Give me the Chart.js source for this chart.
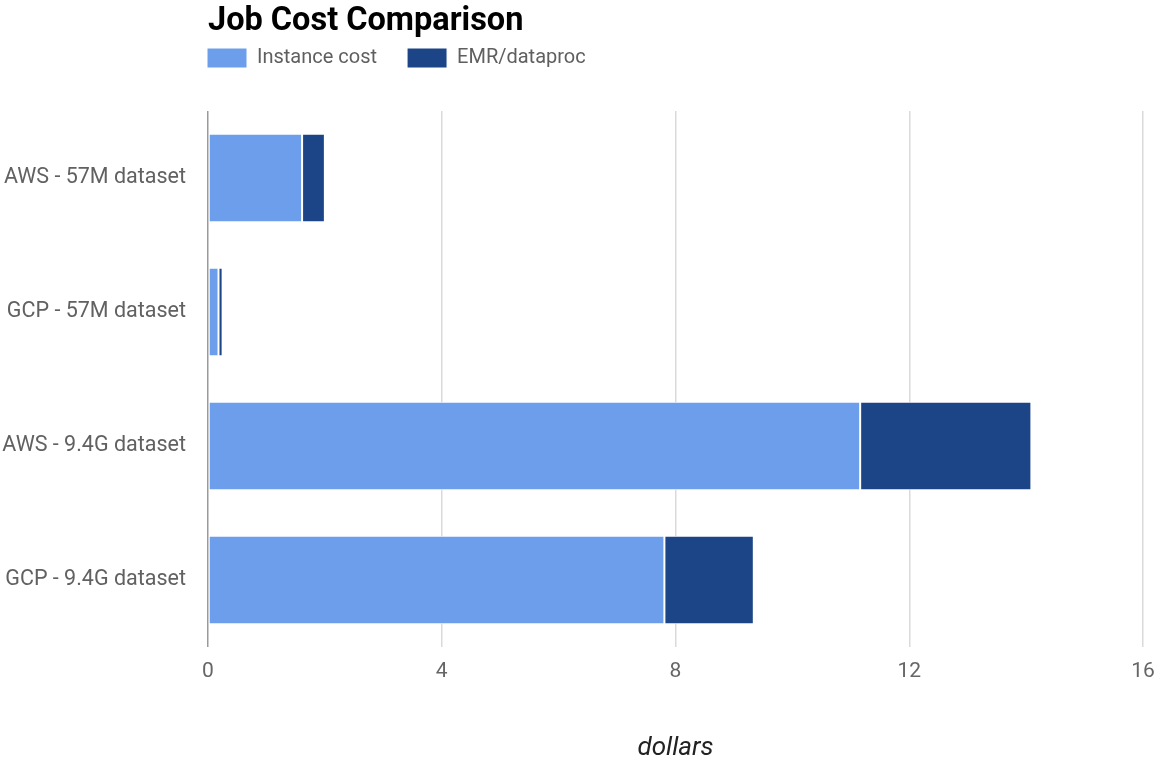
<!DOCTYPE html>
<html>
<head>
<meta charset="utf-8">
<script src="https://cdn.jsdelivr.net/npm/chart.js@4"></script>
<style>
  html, body { margin: 0; padding: 0; background: #fff; }
  #wrap { width: 1160px; height: 760px; }
</style>
</head>
<body>
<div id="wrap"><canvas id="myChart" width="1160" height="760"></canvas></div>
<script>
const categories = ['AWS - 57M dataset', 'GCP - 57M dataset', 'AWS - 9.4G dataset', 'GCP - 9.4G dataset'];
const instanceCost = [1.61, 0.18, 11.16, 7.81];
const emrDataproc = [0.39, 0.07, 2.93, 1.53];
const xTicks = [0, 4, 8, 12, 16];

const LEGEND_PAD = 30;

// title + legend sit flush with the plot area, not the canvas edge
const alignToPlot = {
  id: 'alignToPlot',
  afterLayout(chart) {
    const left = chart.chartArea.left;
    if (chart.titleBlock) chart.titleBlock.left = left;
    if (chart.legend) {
      chart.legend.left = left - LEGEND_PAD - 1;
      chart.legend.top = 48 - LEGEND_PAD;
    }
  }
};

const ctx = document.getElementById('myChart');
new Chart(ctx, {
  type: 'bar',
  data: {
    labels: categories,
    datasets: [{
      label: 'Instance cost',
      data: instanceCost,
      backgroundColor: '#6d9eeb',
      borderColor: '#ffffff',
      borderWidth: 1,
      borderSkipped: false
    }, {
      label: 'EMR/dataproc',
      data: emrDataproc,
      backgroundColor: '#1c4587',
      borderColor: '#ffffff',
      borderWidth: 1,
      borderSkipped: false
    }]
  },
  plugins: [alignToPlot],
  options: {
    responsive: false,
    animation: false,
    indexAxis: 'y',
    barPercentage: 1,
    categoryPercentage: 0.66,
    layout: { padding: { left: 0, right: 0, top: 0, bottom: 0 } },
    plugins: {
      title: {
        display: true,
        text: 'Job Cost Comparison',
        align: 'start',
        color: '#000',
        font: { family: 'Roboto', size: 32.5, weight: 'bold' },
        padding: { top: 2, bottom: 10 }
      },
      legend: {
        display: true,
        align: 'start',
        labels: {
          boxWidth: 40,
          boxHeight: 20,
          padding: LEGEND_PAD,
          color: '#5f5f5f',
          font: { family: 'Roboto', size: 20 }
        }
      },
      tooltip: { enabled: false }
    },
    scales: {
      x: {
        stacked: true,
        min: 0,
        max: 16,
        afterBuildTicks(scale) {
          scale.ticks = xTicks.map(v => ({ value: v }));
        },
        afterFit(scale) {
          scale.height = 113;
          scale.paddingRight = 17;
        },
        grid: {
          drawTicks: false,
          lineWidth: 1.5,
          color: (c) => c.tick && c.tick.value === 0 ? '#9a9a9a' : '#dadada'
        },
        border: { display: false },
        ticks: {
          color: '#666',
          padding: 12,
          font: { family: 'Roboto', size: 21 }
        },
        title: {
          display: true,
          text: 'dollars',
          color: '#222',
          padding: { top: 46, bottom: -4 },
          font: { family: 'Roboto', size: 26, style: 'italic' }
        }
      },
      y: {
        stacked: true,
        afterFit(scale) {
          scale.width = 208;
        },
        grid: { display: false, drawTicks: false },
        border: { display: false },
        ticks: {
          color: '#616161',
          padding: 22,
          font: { family: 'Roboto', size: 21.5 }
        }
      }
    }
  }
});
</script>
</body>
</html>
